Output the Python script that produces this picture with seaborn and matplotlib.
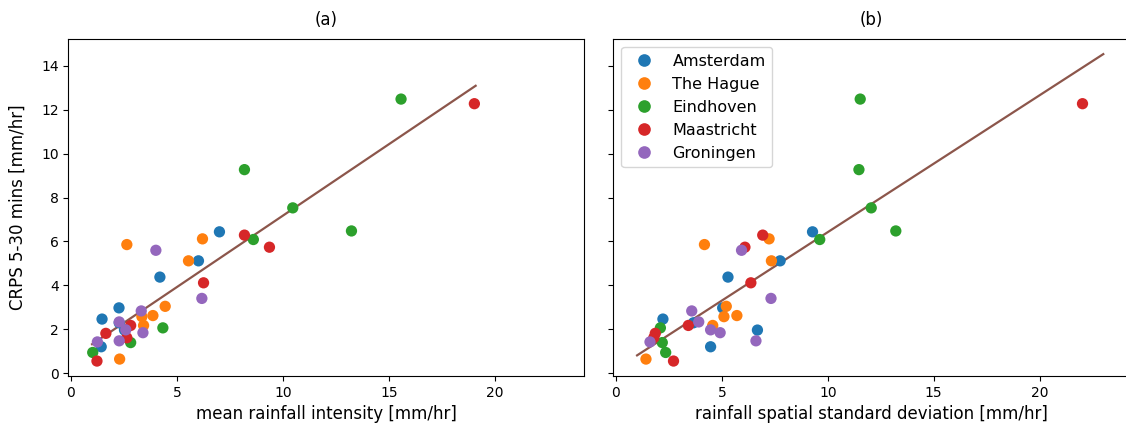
import numpy as np
import pandas as pd
import matplotlib
matplotlib.use("Agg")
import matplotlib.pyplot as plt
import seaborn as sns

cities = ["Amsterdam", "The Hague", "Eindhoven", "Maastricht", "Groningen"]

# CRPS values (shared y) per city
crps_amsterdam = [6.44, 5.12, 4.38, 2.98, 2.47, 2.30, 1.97, 1.21]
crps_hague = [6.12, 5.86, 5.12, 3.05, 2.58, 2.63, 2.18, 0.65]
crps_eindhoven = [12.48, 9.27, 7.53, 6.48, 6.09, 2.07, 1.40, 0.95]
crps_maastricht = [12.27, 6.29, 5.74, 4.12, 2.18, 1.82, 1.62, 0.56]
crps_groningen = [5.60, 3.41, 2.84, 2.34, 1.98, 1.85, 1.48, 1.43]

# mean rainfall intensity (panel a)
mean_amsterdam = [7.01, 6.02, 4.20, 2.27, 1.47, 2.28, 2.53, 1.43]
mean_hague = [6.21, 2.64, 5.55, 4.45, 3.35, 3.87, 3.43, 2.30]
mean_eindhoven = [15.58, 8.19, 10.47, 13.24, 8.61, 4.34, 2.82, 1.03]
mean_maastricht = [19.04, 8.19, 9.37, 6.26, 2.82, 1.65, 2.64, 1.23]
mean_groningen = [4.01, 6.18, 3.32, 2.28, 2.59, 3.40, 2.28, 1.25]

# rainfall spatial standard deviation (panel b)
std_amsterdam = [9.28, 7.75, 5.29, 5.04, 2.22, 3.66, 6.68, 4.47]
std_hague = [7.23, 4.18, 7.34, 5.21, 5.10, 5.71, 4.57, 1.42]
std_eindhoven = [11.53, 11.47, 12.05, 13.21, 9.62, 2.10, 2.19, 2.35]
std_maastricht = [22.02, 6.93, 6.09, 6.37, 3.42, 1.86, 1.79, 2.72]
std_groningen = [5.93, 7.32, 3.58, 3.91, 4.47, 4.92, 6.61, 1.61]

# x ranges over which the fitted lines are drawn
fit_range_mean = [1.0, 19.1]
fit_range_std = [1.0, 23.0]

crps_all = [crps_amsterdam, crps_hague, crps_eindhoven, crps_maastricht, crps_groningen]
mean_all = [mean_amsterdam, mean_hague, mean_eindhoven, mean_maastricht, mean_groningen]
std_all = [std_amsterdam, std_hague, std_eindhoven, std_maastricht, std_groningen]

rows = []
for c, ys, xm, xs in zip(cities, crps_all, mean_all, std_all):
    for y, a, b in zip(ys, xm, xs):
        rows.append({"city": c, "crps": y, "mean": a, "std": b})
df = pd.DataFrame(rows)

palette = dict(zip(cities, sns.color_palette("tab10", 5)))
line_color = sns.color_palette("tab10")[5]

fig, axes = plt.subplots(1, 2, figsize=(11.26, 4.30), dpi=100, sharex=True, sharey=True)
axes[0].set_position([0.0607, 0.1256, 0.4577, 0.783])
axes[1].set_position([0.5447, 0.1256, 0.4577, 0.783])

for ax, col, rng, xlabel, title in zip(
    axes, ["mean", "std"], [fit_range_mean, fit_range_std],
    ["mean rainfall intensity [mm/hr]", "rainfall spatial standard deviation [mm/hr]"],
    ["(a)", "(b)"]):
    sns.scatterplot(data=df, x=col, y="crps", hue="city", hue_order=cities,
                    palette=palette, s=66, linewidth=0, ax=ax, zorder=3)
    k, b0 = np.polyfit(df[col], df["crps"], 1)
    xl = np.array(rng)
    ax.plot(xl, k * xl + b0, color=line_color, lw=1.6, zorder=2)
    ax.set_xlabel(xlabel, fontsize=12)
    ax.set_title(title, fontsize=12, pad=10)
    ax.tick_params(labelsize=10)

axes[0].set_ylabel("CRPS 5-30 mins [mm/hr]", fontsize=12, labelpad=10)
axes[1].set_ylabel("")
axes[0].legend_.remove()
axes[1].legend(loc="upper left", fontsize=11.5, title=None, markerscale=1.12)
axes[0].set_xlim(-0.12, 24.2)
axes[0].set_ylim(-0.12, 15.2)
axes[0].set_xticks([0, 5, 10, 15, 20])
axes[0].set_yticks([0, 2, 4, 6, 8, 10, 12, 14])

fig.savefig("out.png", dpi=100)
